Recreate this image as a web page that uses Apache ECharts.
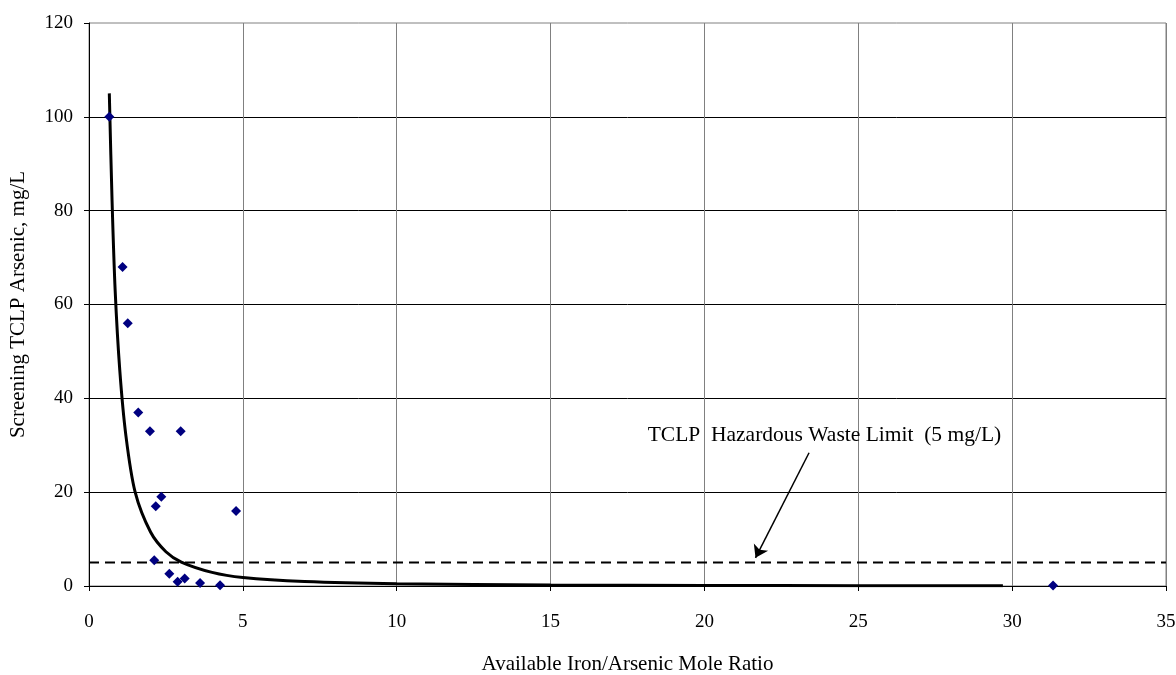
<!DOCTYPE html>
<html><head><meta charset="utf-8">
<script src="https://cdn.jsdelivr.net/npm/echarts@6/dist/echarts.min.js"></script>
<style>html,body{margin:0;padding:0;background:#fff}#c{width:1176px;height:675px}</style>
</head><body><div id="c"></div>
<script>
// Measured data points (Fe/As mole ratio, TCLP As mg/L)
const ratio =   [0.66, 1.09, 1.26, 1.60, 1.98, 2.98, 2.35, 2.17, 4.78, 2.12, 2.61, 2.88, 3.11, 3.61, 4.26, 31.33];
const arsenic = [100,  68,   56,   37,   33,   33,   19,   17,   16,   5.5,  2.6,  0.9,  1.6,  0.64, 0.15, 0.1];
// Fitted trend curve
const curveX = [0.66, 0.75, 0.85, 1.0, 1.2, 1.5, 2.0, 2.5, 3.0, 4.0, 5.0, 7.0, 10, 15, 20, 25, 29.7];
const curveY = [105,  82,   63,   46,  32,  20,  11.5, 7.3, 5.1, 2.9, 1.8, 0.95, 0.46, 0.2, 0.11, 0.07, 0.05];
// Hazardous waste limit
const limitValue = 5;
const limitX = [0, 35];
const annotationText = 'TCLP  Hazardous Waste Limit  (5 mg/L)';
const annotationAt = [23.9, 32.2];
const arrowFrom = [23.4, 28.4];
const arrowTo = [21.66, 6.0];
const xTicks = [0, 5, 10, 15, 20, 25, 30, 35];
const yTicks = [0, 20, 40, 60, 80, 100, 120];

const FONT = 'Liberation Serif';
const chart = echarts.init(document.getElementById('c'));
chart.setOption({
  animation: false,
  backgroundColor: '#fff',
  grid: { left: 89, right: 10, top: 23, bottom: 89, outerBoundsMode: 'none', containLabel: false,
          show: true, borderColor: '#808080', borderWidth: 1 },
  xAxis: {
    type: 'value', min: xTicks[0], max: xTicks[xTicks.length - 1], interval: 5,
    name: 'Available Iron/Arsenic Mole Ratio', nameLocation: 'middle', nameGap: 68,
    nameTextStyle: { fontFamily: FONT, fontSize: 21, color: '#000' },
    axisLine: { show: true, onZero: false, lineStyle: { color: '#000', width: 1 } },
    axisTick: { show: true, length: 5, lineStyle: { color: '#000' } },
    axisLabel: { fontFamily: FONT, fontSize: 19, color: '#000', margin: 27 },
    splitLine: { show: true, lineStyle: { color: '#808080', width: 1 } }
  },
  yAxis: {
    type: 'value', min: yTicks[0], max: yTicks[yTicks.length - 1], interval: 20,
    name: 'Screening TCLP Arsenic, mg/L', nameLocation: 'middle', nameGap: 60,
    nameTextStyle: { fontFamily: FONT, fontSize: 21, color: '#000' },
    axisLine: { show: true, onZero: false, lineStyle: { color: '#000', width: 1 } },
    axisTick: { show: true, length: 5, lineStyle: { color: '#000' } },
    axisLabel: { fontFamily: FONT, fontSize: 19, color: '#000', margin: 16 },
    splitLine: { show: true, showMaxLine: false, lineStyle: { color: '#000', width: 1 } }
  },
  series: [
    {
      type: 'line', data: limitX.map(x => [x, limitValue]), symbol: 'none', silent: true,
      lineStyle: { color: '#000', width: 2, type: [10, 6] }, z: 2,
      markLine: {
        silent: true, symbol: ['none', 'arrow'], symbolSize: 12,
        label: { show: false },
        lineStyle: { color: '#000', width: 1.5, type: 'solid', opacity: 1 },
        data: [[{ coord: arrowFrom }, { coord: arrowTo }]]
      }
    },
    {
      type: 'line', data: curveX.map((x, i) => [x, curveY[i]]), smooth: 0.3, symbol: 'none',
      lineStyle: { color: '#000', width: 3 }, z: 3
    },
    {
      type: 'scatter', data: ratio.map((x, i) => [x, arsenic[i]]), symbol: 'diamond', symbolSize: 10,
      itemStyle: { color: '#000080', opacity: 1 }, z: 4
    },
    {
      type: 'scatter', data: [annotationAt], symbolSize: 1, silent: true, z: 5,
      itemStyle: { opacity: 1, color: 'rgba(0,0,0,0)' },
      label: { show: true, position: 'inside', formatter: annotationText, fontFamily: FONT, fontSize: 21.5, color: '#000', opacity: 1 }
    }
  ]
});
</script></body></html>
